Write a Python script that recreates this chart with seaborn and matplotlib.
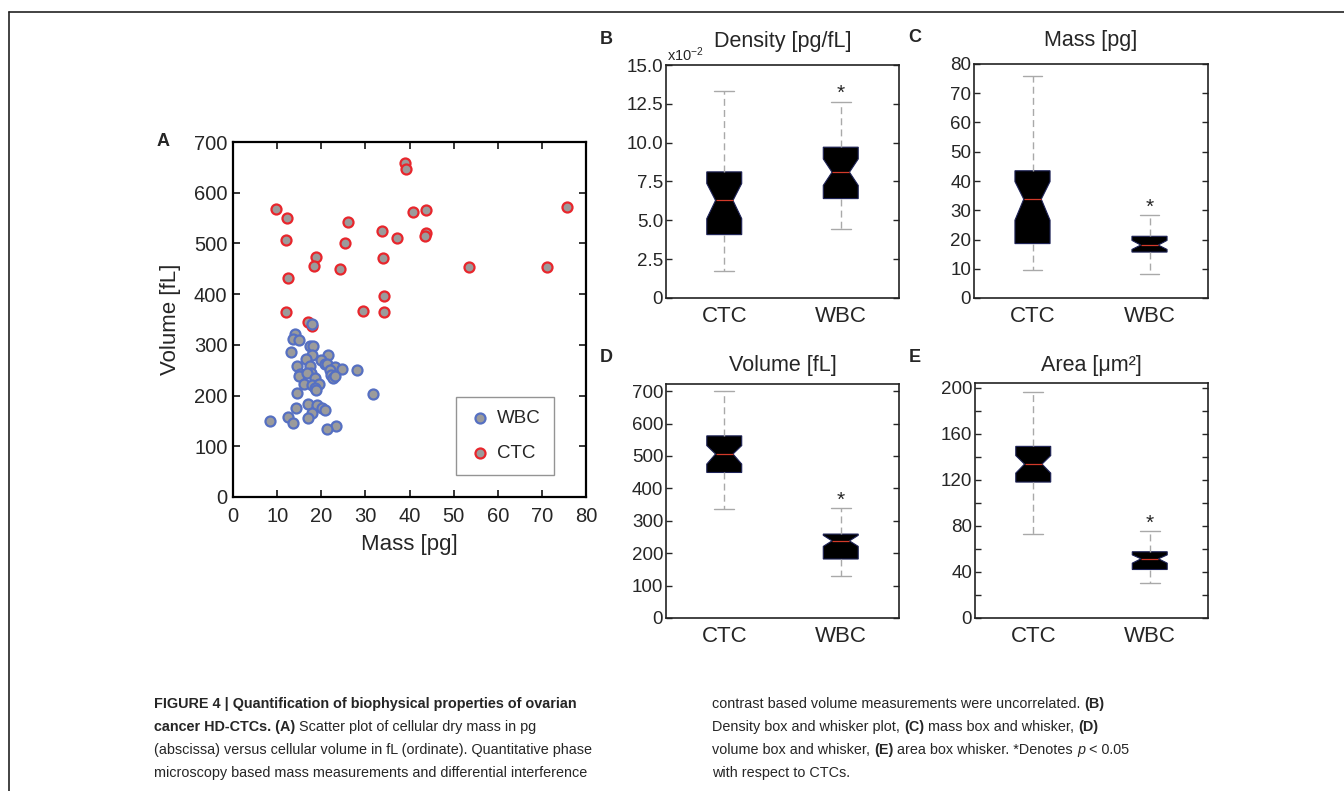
import numpy as np
import pandas as pd

import matplotlib

matplotlib.use("Agg")

import matplotlib.pyplot as plt
import seaborn as sns
from matplotlib.lines import Line2D
from matplotlib.ticker import MultipleLocator, FuncFormatter

# =====================================
# Panel A: cell mass vs volume
# =====================================

wbc_mass = [17.8, 14.0, 13.7, 14.9, 13.2, 17.5, 18.2, 18.0, 21.5, 16.5,
            19.9, 20.8, 21.4, 14.6, 17.4, 23.1, 24.8, 28.2, 21.9, 15.2,
            15.0, 17.7, 16.7, 22.3, 22.6, 23.2, 18.5, 16.2, 18.0, 19.5,
            18.6, 18.8, 14.6, 31.7, 16.9, 19.1, 20.2, 20.9, 14.2, 18.0,
            16.9, 12.5, 13.7, 8.4, 23.4, 21.2]
wbc_volume = [342, 322, 312, 309, 285, 297, 297, 280, 280, 273,
              271, 263, 263, 259, 259, 257, 252, 251, 250, 242,
              238, 245, 244, 241, 235, 238, 235, 222, 221, 222,
              214, 211, 205, 203, 183, 182, 176, 171, 175, 165,
              155, 158, 146, 150, 140, 135]

ctc_mass = [9.7, 12.2, 12.1, 12.4, 18.7, 18.4, 24.2, 25.4, 26.0, 33.7,
            34.0, 34.2, 37.1, 38.9, 39.3, 40.8, 43.7, 43.7, 43.5, 53.4,
            71.2, 75.8, 12.1, 29.4, 34.2, 17.0, 18.0]
ctc_volume = [568, 551, 507, 431, 474, 456, 450, 500, 543, 524,
              471, 396, 510, 658, 647, 561, 566, 520, 515, 453,
              453, 572, 365, 366, 365, 345, 337]

# =====================================
# Panels B-E: box summaries
# order: low whisker, q1, notch low, median, notch high, q3, high whisker
# =====================================

groups = ["CTC", "WBC"]
box_keys = ["whislo", "q1", "cilo", "med", "cihi", "q3", "whishi"]

density_ctc = [0.0172, 0.0408, 0.0511, 0.0628, 0.0737, 0.0812, 0.1332]
density_wbc = [0.0441, 0.0640, 0.0725, 0.0810, 0.0895, 0.0971, 0.1262]

mass_ctc = [9.7, 18.6, 26.6, 33.8, 39.8, 43.5, 76.0]
mass_wbc = [8.2, 15.7, 16.6, 18.1, 19.7, 21.1, 28.3]

volume_ctc = [335, 449, 475, 506, 532, 562, 701]
volume_wbc = [131, 182, 221, 238, 255, 259, 338]

area_ctc = [72.6, 118.0, 125.8, 133.6, 141.0, 149.0, 196.4]
area_wbc = [30.8, 42.1, 47.6, 51.4, 54.8, 57.5, 75.2]

# =====================================
# Style
# =====================================

sns.set_style("ticks")
plt.rcParams["font.family"] = ["Liberation Sans", "DejaVu Sans"]
plt.rcParams["mathtext.fontset"] = "custom"
plt.rcParams["mathtext.rm"] = "Liberation Sans"
plt.rcParams["mathtext.it"] = "Liberation Sans:italic"
plt.rcParams["mathtext.bf"] = "Liberation Sans:bold"

face_gray = "#9b9b9b"
ctc_red = "#e8262c"
wbc_blue = "#5670c2"

W, H = 1344, 791
fig = plt.figure(figsize=(W / 100, H / 100), dpi=100)


def px_axes(left, top, right, bottom):
    return fig.add_axes([left / W, 1 - bottom / H, (right - left) / W, (bottom - top) / H])


def px_text(x, y, s, **kw):
    return fig.text(x / W, 1 - y / H, s, **kw)


# outer figure frame (left and top edges visible)
fig.add_artist(Line2D([9 / W, 9 / W], [0, 1 - 11.5 / H], color="#222222", lw=1.2,
                      transform=fig.transFigure))
fig.add_artist(Line2D([9 / W, 1], [1 - 11.5 / H, 1 - 11.5 / H], color="#222222", lw=1.2,
                      transform=fig.transFigure))

# =====================================
# Panel A: scatter
# =====================================

ax = px_axes(233, 142, 586, 497)
ctc_df = pd.DataFrame({"mass": ctc_mass, "volume": ctc_volume})
wbc_df = pd.DataFrame({"mass": wbc_mass, "volume": wbc_volume})

sns.scatterplot(data=ctc_df, x="mass", y="volume", ax=ax, color=face_gray,
                edgecolor=ctc_red, linewidth=1.6, s=52, label="CTC", zorder=3)
sns.scatterplot(data=wbc_df, x="mass", y="volume", ax=ax, color=face_gray,
                edgecolor=wbc_blue, linewidth=1.6, s=52, label="WBC", zorder=3)

ax.set_xlim(0, 80)
ax.set_ylim(0, 700)
ax.xaxis.set_major_locator(MultipleLocator(10))
ax.yaxis.set_major_locator(MultipleLocator(100))
ax.tick_params(direction="in", length=5, width=1.3, top=True, right=True, labelsize=14.5)
ax.tick_params(axis="x", pad=7)
ax.tick_params(axis="y", pad=4)
for sp in ax.spines.values():
    sp.set_visible(True)
    sp.set_linewidth(1.6)
    sp.set_color("black")
ax.set_xlabel("Mass [pg]", fontsize=16, labelpad=6)
ax.set_ylabel("Volume [fL]", fontsize=16, labelpad=9)

handles, labels = ax.get_legend_handles_labels()
leg = ax.legend([handles[1], handles[0]], ["WBC", "CTC"], loc="lower right",
                bbox_to_anchor=(0.909, 0.062), borderaxespad=0, frameon=True,
                fancybox=False, edgecolor="#7a7a7a", fontsize=13.5,
                handletextpad=0.3, borderpad=0.7, labelspacing=0.95, handlelength=1.2)
leg.get_frame().set_linewidth(1.0)

px_text(157, 141, "A", fontsize=13, fontweight="bold", va="center")

# =====================================
# Panels B-E: notched box plots
# =====================================


def draw_box(rect, ctc_vals, wbc_vals, ymax, step, title, letter, title_pad, fmt):
    bx = px_axes(*rect)
    stats = []
    for name, vals in zip(groups, [ctc_vals, wbc_vals]):
        st = dict(zip(box_keys, vals))
        st["label"] = name
        st["fliers"] = []
        stats.append(st)
    bx.bxp(stats, positions=[1, 2], widths=0.3, capwidths=0.17, shownotches=True,
           patch_artist=True, showfliers=False,
           boxprops=dict(facecolor="black", edgecolor="#1d2256", linewidth=0.8),
           medianprops=dict(color="#d23a2a", linewidth=0.9),
           whiskerprops=dict(color="#a9a9a9", linestyle=(0, (5, 3)), linewidth=1.0),
           capprops=dict(color="#a9a9a9", linewidth=1.0))
    bx.set_xlim(0.5, 2.5)
    bx.set_ylim(0, ymax)
    bx.set_xticks([1, 2], groups)
    bx.yaxis.set_major_locator(MultipleLocator(step))
    bx.yaxis.set_major_formatter(FuncFormatter(fmt))
    bx.tick_params(axis="x", length=0, labelsize=16, pad=6)
    bx.tick_params(axis="y", direction="in", length=4, width=1.0, left=True, right=True,
                   labelsize=13.5, pad=2)
    for sp in bx.spines.values():
        sp.set_visible(True)
        sp.set_linewidth(1.2)
        sp.set_color("#222222")
    bx.set_title(title, fontsize=15.5, pad=title_pad)
    bx.text(2, wbc_vals[-1] + 0.035 * ymax, "*", ha="center", va="center", fontsize=15)
    px_text(rect[0] - 66, rect[1] - 26, letter, fontsize=13, fontweight="bold", va="center")
    return bx


def fmt_plain(v, p):
    return f"{v:.0f}"


def fmt_density(v, p):
    return "0" if abs(v) < 1e-9 else f"{v * 100:.1f}"


def fmt_area(v, p):
    return f"{v:.0f}" if round(v) % 40 == 0 else ""


bB = draw_box((666, 65, 899, 298), density_ctc, density_wbc, 0.15, 0.025,
              "Density [pg/fL]", "B", 13, fmt_density)
bB.text(0.005, 1.005, "x10$^{-2}$", transform=bB.transAxes, fontsize=10.5,
        ha="left", va="bottom")
draw_box((974, 64, 1208, 298), mass_ctc, mass_wbc, 80, 10,
         "Mass [pg]", "C", 13, fmt_plain)
draw_box((666, 384, 899, 618), volume_ctc, volume_wbc, 722, 100,
         "Volume [fL]", "D", 9, fmt_plain)
draw_box((975, 383, 1208, 618), area_ctc, area_wbc, 204, 20,
         "Area [\u03bcm\u00b2]", "E", 9, fmt_area)

# =====================================
# Caption
# =====================================

cap_size = 10.4
renderer = fig.canvas.get_renderer()
styles = {"r": {}, "b": {"fontweight": "bold"}, "i": {"fontstyle": "italic"}}


def run_width(s, kw):
    t = fig.text(0, 0, s + "|", fontsize=cap_size, **kw)
    bar = fig.text(0, 0, "|", fontsize=cap_size, **kw)
    w = t.get_window_extent(renderer).width - bar.get_window_extent(renderer).width
    t.remove()
    bar.remove()
    return w


def draw_runs(x, y, runs):
    for s, st in runs:
        px_text(x, y, s, fontsize=cap_size, va="baseline", **styles[st])
        x += run_width(s, styles[st])


caption_left = [
    [("FIGURE 4 | Quantification of biophysical properties of ovarian", "b")],
    [("cancer HD-CTCs. (A)", "b"), (" Scatter plot of cellular dry mass in pg", "r")],
    [("(abscissa) versus cellular volume in fL (ordinate). Quantitative phase", "r")],
    [("microscopy based mass measurements and differential interference", "r")],
]
caption_right = [
    [("contrast based volume measurements were uncorrelated. ", "r"), ("(B)", "b")],
    [("Density box and whisker plot, ", "r"), ("(C)", "b"),
     (" mass box and whisker, ", "r"), ("(D)", "b")],
    [("volume box and whisker, ", "r"), ("(E)", "b"),
     (" area box whisker. *Denotes ", "r"), ("p", "i"), (" < 0.05", "r")],
    [("with respect to CTCs.", "r")],
]

for i, runs in enumerate(caption_left):
    draw_runs(154, 708 + 23 * i, runs)
for i, runs in enumerate(caption_right):
    draw_runs(712, 708 + 23 * i, runs)

plt.savefig("out.png", dpi=100)
plt.close()
